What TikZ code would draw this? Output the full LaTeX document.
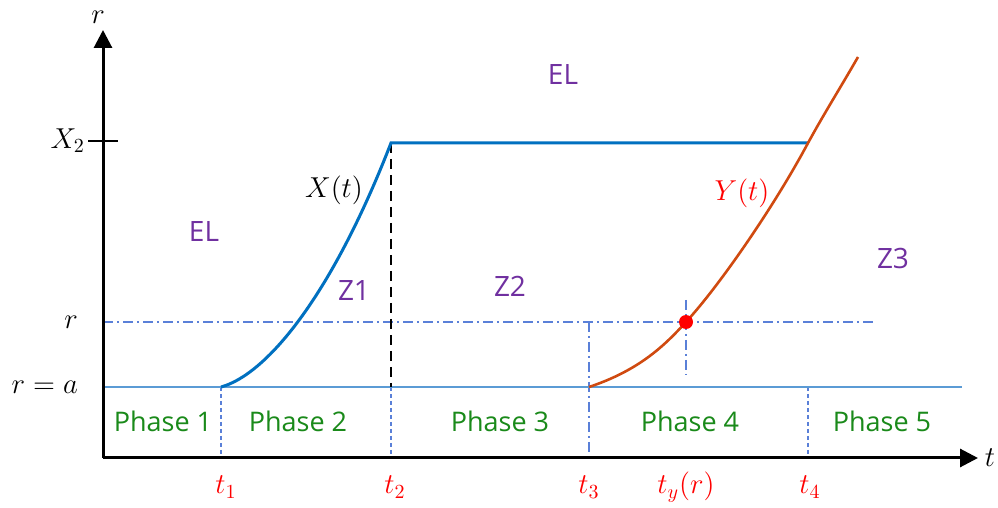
\documentclass[tikz,border=0pt]{standalone}
\usepackage{fontspec}
\newfontfamily\labfont{Open Sans}
\usetikzlibrary{arrows.meta}
\definecolor{axblue}{HTML}{0070C0}
\definecolor{lineblue}{HTML}{5B9BD5}
\definecolor{guide}{HTML}{5A80D8}
\definecolor{yred}{HTML}{D04A10}
\definecolor{zpurple}{HTML}{7030A0}
\definecolor{pgreen}{HTML}{1A8A1A}
\tikzset{
  axis/.style={line width=1.5pt, -{Triangle[length=9pt,width=9pt]}},
  phase/.style={text=pgreen, font=\labfont\fontsize{13.5}{15}\selectfont},
  zone/.style={text=zpurple, font=\labfont\fontsize{14}{16}\selectfont},
  mlab/.style={font=\fontsize{14}{16}\selectfont},
  tlab/.style={text=red, font=\fontsize{14}{16}\selectfont},
  guideline/.style={draw=guide, line width=0.6pt, dash pattern=on 5pt off 2pt on 1pt off 2pt},
  dotguide/.style={draw=guide, line width=0.6pt, dash pattern=on 2pt off 1.5pt},
}
\begin{document}
\begin{tikzpicture}[x=0.5pt,y=-0.5pt]
\path[use as bounding box, fill=white] (0,0) rectangle (998,508);
% coordinates
\coordinate (O) at (103,458);
\coordinate (Ytop) at (103,30);
\coordinate (Xend) at (978,458);
\coordinate (aL) at (103,387);
\coordinate (aR) at (962,387);
\coordinate (rL) at (103,322);
\coordinate (rR) at (875,322);
\coordinate (T1) at (221,387);
\coordinate (T2) at (391,143);
\coordinate (T2a) at (391,387);
\coordinate (T3) at (589,387);
\coordinate (T3r) at (589,322);
\coordinate (T4) at (808,143);
\coordinate (T4a) at (808,387);
\coordinate (Ydot) at (686,322);
\coordinate (Yend) at (858,57);
\coordinate (tyT) at (686,300);
\coordinate (tyB) at (686,375);
\coordinate (tk1) at (88,141);
\coordinate (tk2) at (118,141);
% guide lines
\draw[guideline] (rL) -- (rR);
\draw[guideline] (T3r) -- (T3r |- O);
\draw[guideline] (tyT) -- (tyB);
\draw[dotguide] (T1) -- (T1 |- O);
\draw[dotguide] (T2a) -- (T2a |- O);
\draw[dotguide] (T4a) -- (T4a |- O);
% r=a line
\draw[lineblue, line width=1.2pt] (aL) -- (aR);
% dashed black
\draw[black, line width=1.3pt, dash pattern=on 5pt off 3pt] (T2) -- (T2a);
% X(t)
\draw[axblue, line width=1.5pt] (T1) .. controls (265,375) and (330,300) .. (T2) -- (T4);
% Y(t)
\draw[yred, line width=1.3pt] (T3) .. controls (640,370) and (665,345) .. (Ydot)
  .. controls (720,285) and (775,205) .. (T4) .. controls (825,112) and (842,85) .. (Yend);
\node[circle, fill=red, inner sep=0pt, minimum size=7pt] (dot) at (Ydot) {};
% axes
\draw[axis] (O) -- (Ytop);
\draw[axis] (O) -- (Xend);
\draw[line width=0.8pt] (tk1) -- (tk2);
% axis labels
\node[mlab] (rax) at (98,17) {$r$};
\node[mlab] (tax) at (990,458) {$t$};
\node[mlab, anchor=east] (X2) at (92,141) {$X_2$};
\node[mlab, anchor=east] (rl) at (85,322) {$r$};
\node[mlab, anchor=east] (ra) at (85,387) {$r=a$};
\node[mlab] (Xt) at (334,190) {$X(t)$};
\node[mlab, text=red] (Yt) at (742,193) {$Y(t)$};
% zones
\node[zone] (EL1) at (563,75) {EL};
\node[zone] (EL2) at (204,232) {EL};
\node[zone] (Z1) at (354,291) {Z1};
\node[zone] (Z2) at (510,286) {Z2};
\node[zone] (Z3) at (893,258) {Z3};
% phases
\node[phase] (P1) at (163,421) {Phase 1};
\node[phase] (P2) at (298,421) {Phase 2};
\node[phase] (P3) at (500,421) {Phase 3};
\node[phase] (P4) at (690,421) {Phase 4};
\node[phase] (P5) at (882,421) {Phase 5};
% t labels
\node[tlab] (t1) at (226,487) {$t_1$};
\node[tlab] (t2) at (395,487) {$t_2$};
\node[tlab] (t3) at (589,487) {$t_3$};
\node[tlab] (ty) at (686,487) {$t_y(r)$};
\node[tlab] (t4) at (810,487) {$t_4$};
\end{tikzpicture}
\end{document}
